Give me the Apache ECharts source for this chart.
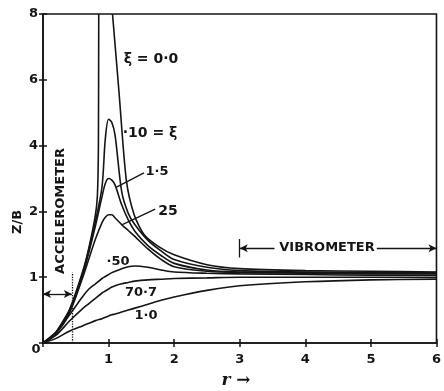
<!DOCTYPE html>
<html>
<head>
<meta charset="utf-8">
<script src="https://cdn.jsdelivr.net/npm/echarts@6/dist/echarts.min.js"></script>
<style>
  html, body { margin: 0; padding: 0; background: #fff; }
  #chartBox { width: 444px; height: 391px; }
</style>
</head>
<body>
<div id="chartBox"></div>
<script>
// frequency ratio r (shared by the damped curves)
const ratio = [0, 0.2, 0.4, 0.6, 0.7, 0.8, 0.9, 0.95, 1.0, 1.05, 1.1, 1.2, 1.3, 1.4, 1.6, 1.8, 2.0, 2.5, 3, 4, 5, 6];
// ξ = 0 goes off the top, so it has two branches
const zeroLeftR = [0, 0.2, 0.4, 0.6, 0.7, 0.8, 0.83, 0.845, 0.85];
const zeroLeftZ = [0, 0.17, 0.5, 1.07, 1.45, 1.95, 2.5, 4, 8];
const zeroRightR = [1.06, 1.16, 1.27, 1.39, 1.54, 1.77, 2.0, 2.5, 3, 4, 5, 6];
const zeroRightZ = [8, 5.6, 2.96, 1.95, 1.65, 1.46, 1.34, 1.19, 1.13, 1.1, 1.09, 1.08];
// Z/B for each damping ratio
const damp010 = [0, 0.16, 0.48, 1.04, 1.42, 1.85, 2.75, 4.2, 4.8, 4.7, 4.3, 2.6, 1.97, 1.8, 1.56, 1.4, 1.27, 1.15, 1.1, 1.08, 1.07, 1.07];
const damp015 = [0, 0.16, 0.47, 1.02, 1.38, 1.78, 2.45, 2.85, 3.0, 2.95, 2.8, 2.2, 1.87, 1.7, 1.48, 1.33, 1.21, 1.11, 1.08, 1.07, 1.06, 1.06];
const damp025 = [0, 0.15, 0.45, 0.98, 1.28, 1.58, 1.83, 1.91, 1.95, 1.95, 1.9, 1.8, 1.71, 1.62, 1.43, 1.27, 1.16, 1.09, 1.07, 1.06, 1.05, 1.05];
const damp050 = [0, 0.15, 0.42, 0.7, 0.82, 0.9, 0.98, 1.01, 1.04, 1.07, 1.09, 1.13, 1.16, 1.17, 1.15, 1.11, 1.08, 1.06, 1.05, 1.04, 1.03, 1.03];
const damp0707 = [0, 0.12, 0.33, 0.52, 0.6, 0.68, 0.76, 0.79, 0.82, 0.85, 0.87, 0.9, 0.92, 0.94, 0.96, 0.97, 0.98, 0.99, 1.0, 1.0, 1.0, 1.0];
const damp100 = [0, 0.07, 0.18, 0.26, 0.3, 0.34, 0.37, 0.39, 0.41, 0.43, 0.44, 0.47, 0.5, 0.53, 0.59, 0.65, 0.7, 0.8, 0.87, 0.93, 0.96, 0.97];
// y tick labels (the axis is squeezed above 2)
const yTicks = [0, 1, 2, 4, 6, 8];
const xTicks = [0, 1, 2, 3, 4, 5, 6];
// ranges of the two annotations
const accelRange = [0, 0.44];
const vibroRange = [3, 6];

const INK = '#151515';
const FONT = 'DejaVu Sans';

// below 2 one unit, above 2 half a unit
const toAxis = v => (v <= 2 ? v : 2 + (v - 2) / 2);
const pairs = (xs, ys) => xs.map((x, i) => [x, toAxis(ys[i])]);

var myChart = null;

const curve = (data, smooth) => ({
  type: 'line',
  data: data,
  showSymbol: false,
  smooth: smooth || 0.3,
  lineStyle: { color: INK, width: 1.6 },
  silent: true
});

const mark = (a, b, s1, s2, type) => [
  { coord: a, symbol: s1, symbolSize: [6, 8], lineStyle: { type: type || 'solid' } },
  { coord: b, symbol: s2, symbolSize: [6, 8] }
];

const label = (text, x, y, size, rot) => ({
  type: 'text',
  x: x,
  y: y,
  rotation: rot || 0,
  style: {
    text: text,
    fill: INK,
    font: 'bold ' + (size || 13) + 'px "' + FONT + '"',
    textAlign: 'center',
    textVerticalAlign: 'middle'
  }
});

const getOptions = () => {
  const vy = 1.44;
  const ay = 0.745;
  return {
    animation: false,
    backgroundColor: '#fff',
    grid: {
      left: 43,
      right: 4,
      top: 14,
      bottom: 48,
      show: true,
      borderColor: INK,
      borderWidth: 1.6
    },
    xAxis: [
      {
        type: 'value',
        min: xTicks[0],
        max: xTicks[xTicks.length - 1],
        interval: 1,
        axisLine: { lineStyle: { color: INK, width: 1.6 } },
        axisTick: { length: 4, lineStyle: { color: INK, width: 1.5 } },
        axisLabel: {
          margin: 10,
          color: INK,
          fontFamily: FONT,
          fontWeight: 'bold',
          fontSize: 13,
          formatter: v => (v === 0 ? '' : String(v))
        },
        splitLine: { show: false }
      },
      {
        type: 'value',
        position: 'bottom',
        min: xTicks[0],
        max: xTicks[xTicks.length - 1],
        interval: 1,
        axisLine: { show: false },
        axisTick: { inside: true, length: 4, lineStyle: { color: INK, width: 1.5 } },
        axisLabel: { show: false },
        splitLine: { show: false }
      }
    ],
    yAxis: [
      {
        type: 'value',
        min: 0,
        max: toAxis(yTicks[yTicks.length - 1]),
        interval: 1,
        axisLine: { show: true, lineStyle: { color: INK, width: 1.6 } },
        axisTick: { show: true, length: 4, lineStyle: { color: INK, width: 1.5 } },
        axisLabel: {
          margin: 5,
          color: INK,
          fontFamily: FONT,
          fontWeight: 'bold',
          fontSize: 13,
          formatter: v => (v === 0 ? '' : String(yTicks[v]))
        },
        splitLine: { show: false }
      },
      {
        type: 'value',
        position: 'left',
        min: 0,
        max: toAxis(yTicks[yTicks.length - 1]),
        interval: 1,
        axisLine: { show: false },
        axisTick: { show: true, inside: true, length: 4, lineStyle: { color: INK, width: 1.5 } },
        axisLabel: { show: false },
        splitLine: { show: false }
      }
    ],
    series: [
      curve(pairs(zeroLeftR, zeroLeftZ), 0.15),
      curve(pairs(zeroRightR, zeroRightZ), 0.25),
      curve(pairs(ratio, damp010)),
      curve(pairs(ratio, damp015)),
      curve(pairs(ratio, damp025)),
      curve(pairs(ratio, damp050)),
      curve(pairs(ratio, damp0707)),
      curve(pairs(ratio, damp100)),
      {
        type: 'line',
        data: [],
        silent: true,
        markLine: {
          silent: true,
          animation: false,
          label: { show: false },
          lineStyle: { color: INK, width: 1.3 },
          emphasis: { disabled: true },
          data: [
            // accelerometer range
            mark([accelRange[0], ay], [accelRange[1], ay], 'arrow', 'arrow'),
            mark([accelRange[1], 0], [accelRange[1], 1.07], 'none', 'none', 'dotted'),
            // vibrometer range
            mark([vibroRange[0], 1.3], [vibroRange[0], 1.58], 'none', 'none'),
            mark([vibroRange[0], vy], [3.53, vy], 'arrow', 'none'),
            mark([5.09, vy], [vibroRange[1], vy], 'none', 'arrow'),
            // leaders for 0.15 and 0.25
            mark([1.12, toAxis(2.74)], [1.54, toAxis(3.17)], 'none', 'none'),
            mark([1.21, toAxis(1.8)], [1.71, toAxis(2.07)], 'none', 'none')
          ]
        }
      }
    ],
    graphic: [
      label('0', 36, 350),
      label('Z/B', 18, 222, 13, Math.PI / 2),
      label('ACCELEROMETER', 61, 211, 13, Math.PI / 2),
      label('VIBROMETER', 327, 248),
      label('ξ = 0·0', 151, 59, 14),
      label('·10 = ξ', 150, 133, 14),
      label('1·5', 157, 172),
      label('25', 168, 211, 14),
      label('·50', 118, 262),
      label('70·7', 141, 293),
      label('1·0', 146, 316),
      {
        type: 'text',
        x: 236,
        y: 381,
        style: {
          text: 'r →',
          fill: INK,
          font: 'bold italic 17px "DejaVu Serif"',
          textAlign: 'center',
          textVerticalAlign: 'middle'
        }
      }
    ]
  };
};

var chartDom = document.getElementById('chartBox');
myChart = echarts.init(chartDom);
myChart.setOption(getOptions(), true);
</script>
</body>
</html>
